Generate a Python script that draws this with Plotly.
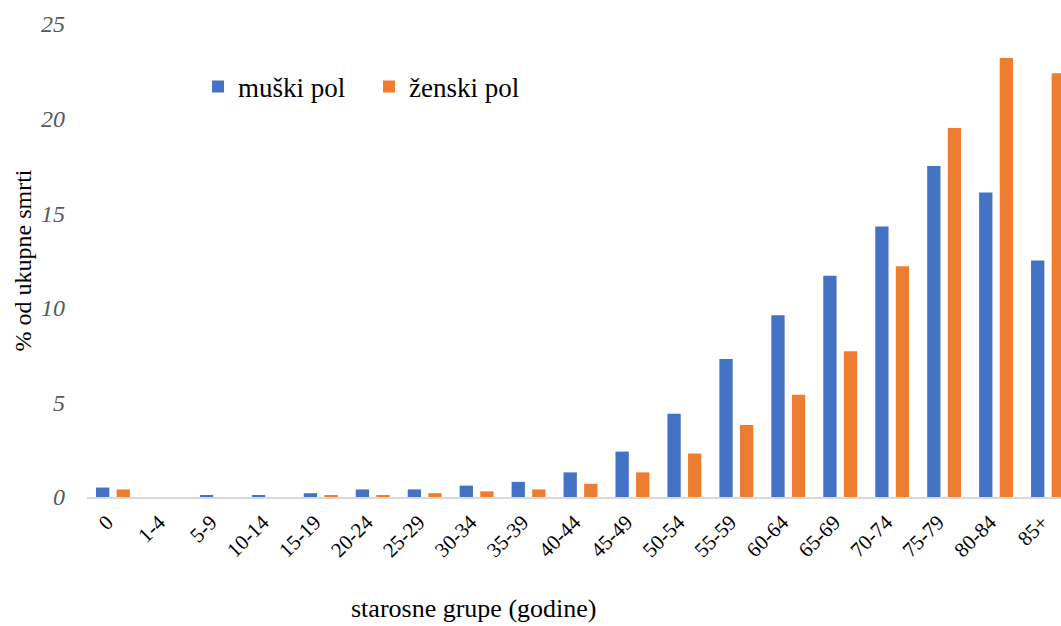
import plotly.graph_objects as go

categories = ["0", "1-4", "5-9", "10-14", "15-19", "20-24", "25-29", "30-34", "35-39",
              "40-44", "45-49", "50-54", "55-59", "60-64", "65-69", "70-74", "75-79",
              "80-84", "85+"]
muski = [0.5, 0.0, 0.1, 0.1, 0.2, 0.4, 0.4, 0.6, 0.8, 1.3, 2.4, 4.4, 7.3, 9.6, 11.7,
         14.3, 17.5, 16.1, 12.5]
zenski = [0.4, 0.0, 0.0, 0.0, 0.1, 0.1, 0.2, 0.3, 0.4, 0.7, 1.3, 2.3, 3.8, 5.4, 7.7,
          12.2, 19.5, 23.2, 22.4]
y_ticks = [0, 5, 10, 15, 20, 25]

SERIF = "Liberation Serif"

fig = go.Figure()
fig.add_trace(go.Bar(x=categories, y=muski, name="muški pol",
                     marker=dict(color="#4472C4", line=dict(width=0))))
fig.add_trace(go.Bar(x=categories, y=zenski, name="ženski pol",
                     marker=dict(color="#ED7D31", line=dict(width=0))))

fig.update_layout(
    width=1061, height=626,
    margin=dict(l=87, r=0, t=24, b=129),
    paper_bgcolor="white", plot_bgcolor="white",
    barmode="group", bargap=0.207, bargroupgap=0.354,
    font=dict(family=SERIF, color="#000000"),
    showlegend=True,
    legend=dict(orientation="h", x=0.114, y=0.867, xanchor="left", yanchor="middle",
                font=dict(family=SERIF, size=27, color="#000000"),
                entrywidth=126, entrywidthmode="pixels",
                bgcolor="rgba(0,0,0,0)", itemwidth=30),
    xaxis=dict(type="category", range=[-0.5, 18.25], showgrid=False,
               showline=True, linecolor="#D9D9D9", linewidth=1.5,
               tickangle=-45, ticks="", ticklabelshift=-6, ticklabelstandoff=3,
               tickfont=dict(family=SERIF, size=21, color="#000000")),
    yaxis=dict(range=[0, 25], tickvals=y_ticks, showgrid=False, zeroline=False,
               showline=False, ticks="", ticklabelstandoff=21,
               tickfont=dict(family=SERIF, size=24, color="#595959", style="italic"),
               title=dict(text="% od ukupne smrti", standoff=2,
                          font=dict(family=SERIF, size=24, color="#000000"))),
    annotations=[dict(text="starosne grupe (godine)", xref="paper", yref="paper",
                      x=(473 - 87) / 974, y=-(608 - 497) / 473,
                      xanchor="center", yanchor="middle", showarrow=False,
                      font=dict(family=SERIF, size=26, color="#000000"))],
)

fig.write_html("out.html")
